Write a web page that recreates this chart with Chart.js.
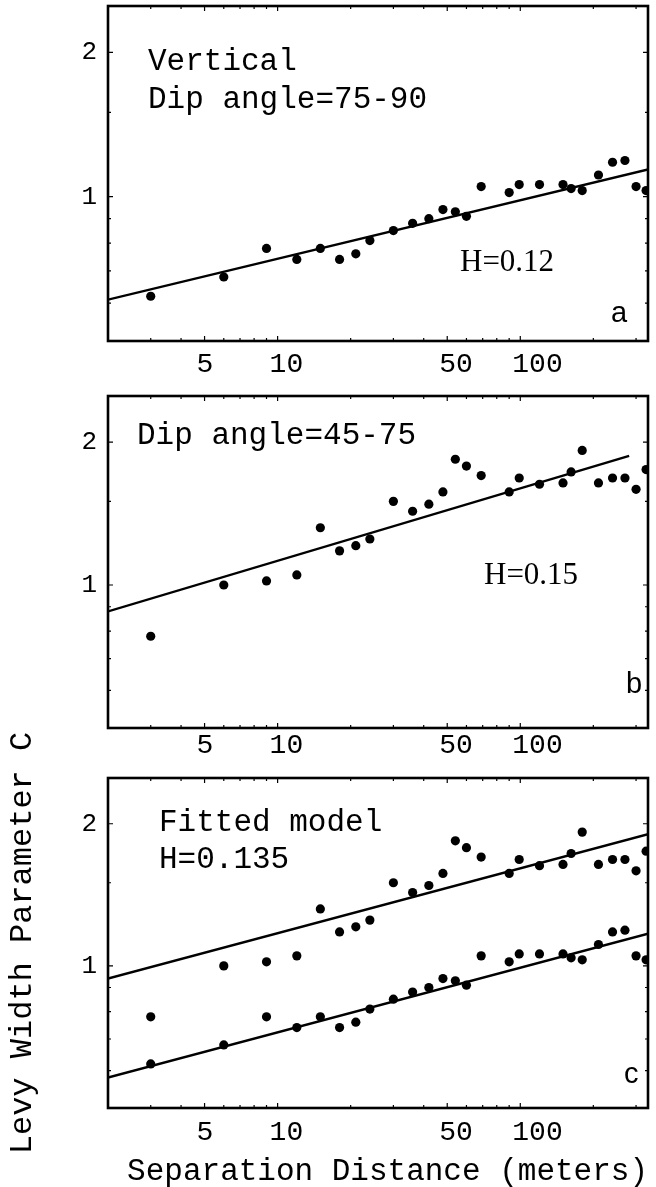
<!DOCTYPE html>
<html>
<head>
<meta charset="utf-8">
<script src="https://cdn.jsdelivr.net/npm/chart.js@4.4.1/dist/chart.umd.min.js"></script>
<style>
  html, body { margin: 0; padding: 0; background: #fff; }
  #page { position: relative; width: 656px; height: 1187px; overflow: hidden; }
  .panel { position: absolute; left: 0; width: 656px; }
  .panel canvas { display: block; }
</style>
</head>
<body>
<div id="page">
  <div class="panel" style="top:0;height:390px"><canvas id="chartA" width="656" height="390"></canvas></div>
  <div class="panel" style="top:390px;height:380px"><canvas id="chartB" width="656" height="380"></canvas></div>
  <div class="panel" style="top:690px;height:497px"><canvas id="chartC" width="656" height="497"></canvas></div>
</div>
<script>
// separation distance (m)
const distances = [3, 6, 9, 12, 15, 18, 21, 24, 30, 36, 42, 48, 54, 60, 69, 90, 99, 120, 150, 162, 180, 210, 240, 270, 300, 330];
// Levy width parameter C, dip 75-90 (vertical)
const levyVertical = [0.62, 0.68, 0.78, 0.74, 0.78, 0.74, 0.76, 0.81, 0.85, 0.88, 0.90, 0.94, 0.93, 0.91, 1.05, 1.02, 1.06, 1.06, 1.06, 1.04, 1.03, 1.11, 1.18, 1.19, 1.05, 1.03];
// Levy width parameter C, dip 45-75
const levyInclined = [0.78, 1.00, 1.02, 1.05, 1.32, 1.18, 1.21, 1.25, 1.50, 1.43, 1.48, 1.57, 1.84, 1.78, 1.70, 1.57, 1.68, 1.63, 1.64, 1.73, 1.92, 1.64, 1.68, 1.68, 1.59, 1.75];

// fitted lines (end points)
const fitX = [2, 336];
const fitVertical = [0.61, 1.14];
const fitInclinedX = [2, 281];
const fitInclined = [0.88, 1.87];
const modelUpper = [0.94, 1.90];
const modelLower = [0.58, 1.17];

const xTickValues = [5, 10, 50, 100];
const xMinorTicks = [2, 3, 4, 6, 7, 8, 9, 20, 30, 40, 60, 70, 80, 90, 200, 300];
const yTickValues = [1, 2];
const yMinorTicks = [0.6, 0.7, 0.8, 0.9, 1.5];

const MONO = "'Liberation Mono', 'Courier New', monospace";

function pts(xs, ys) {
    return xs.map((x, i) => ({ x: x, y: ys[i] }));
}

function dots(xs, ys) {
    return { data: pts(xs, ys), showLine: false, pointRadius: 4.6, pointHoverRadius: 4.6,
             pointBackgroundColor: '#000', pointBorderWidth: 0 };
}

function fitLine(xs, ys) {
    return { data: pts(xs, ys), showLine: true, borderColor: '#000', borderWidth: 2.4,
             pointRadius: 0, fill: false };
}

// frame + little inward ticks like the original
const framePlugin = {
    id: 'frame',
    afterDraw(chart) {
        const { ctx, chartArea: a, scales: { x, y } } = chart;
        ctx.save();
        ctx.strokeStyle = '#000';
        ctx.lineWidth = 1.2;
        ctx.beginPath();
        xTickValues.concat(xMinorTicks).forEach(v => {
            const px = x.getPixelForValue(v);
            const len = xTickValues.includes(v) ? 5 : 3;
            ctx.moveTo(px, a.bottom); ctx.lineTo(px, a.bottom - len);
            ctx.moveTo(px, a.top); ctx.lineTo(px, a.top + len);
        });
        yTickValues.concat(yMinorTicks).forEach(v => {
            const py = y.getPixelForValue(v);
            const len = yTickValues.includes(v) ? 5 : 3;
            ctx.moveTo(a.left, py); ctx.lineTo(a.left + len, py);
            ctx.moveTo(a.right, py); ctx.lineTo(a.right - len, py);
        });
        ctx.stroke();
        ctx.lineWidth = 2.6;
        ctx.strokeRect(a.left, a.top, a.right - a.left, a.bottom - a.top);
        ctx.restore();
    }
};

// text inside the panels
const notesPlugin = {
    id: 'notes',
    afterDraw(chart, args, opts) {
        const { ctx, chartArea: a } = chart;
        (opts.items || []).forEach(n => {
            ctx.save();
            ctx.font = n.font;
            ctx.fillStyle = '#000';
            ctx.textBaseline = 'alphabetic';
            ctx.fillText(n.text, a.left + n.dx, a.top + n.dy);
            ctx.restore();
        });
    }
};

function makeOptions(cfg) {
    return {
        responsive: false,
        animation: false,
        layout: { padding: { top: cfg.top, right: 8, bottom: 0, left: 0 } },
        plugins: {
            legend: { display: false },
            tooltip: { enabled: false },
            notes: { items: cfg.notes }
        },
        scales: {
            x: {
                type: 'logarithmic',
                min: 2,
                max: 336,
                afterBuildTicks: s => { s.ticks = xTickValues.map(v => ({ value: v })); },
                afterFit: s => { s.height = cfg.xHeight; s.paddingLeft = 0; s.paddingRight = 0; },
                grid: { display: false, drawTicks: false },
                border: { display: false },
                ticks: {
                    color: '#000',
                    font: { family: MONO, size: 28 },
                    padding: cfg.xPad,
                    align: 'start',
                    labelOffset: -8,
                    maxRotation: 0,
                    autoSkip: false,
                    callback: v => String(v)
                },
                title: cfg.xTitle || { display: false }
            },
            y: {
                type: 'logarithmic',
                min: 0.5,
                max: 2.5,
                afterBuildTicks: s => { s.ticks = yTickValues.map(v => ({ value: v })); },
                afterFit: s => { s.width = 108; s.paddingTop = 0; s.paddingBottom = 0; },
                grid: { display: false, drawTicks: false },
                border: { display: false },
                ticks: {
                    color: '#000',
                    font: { family: MONO, size: 26 },
                    padding: 11,
                    autoSkip: false,
                    callback: v => String(v)
                },
                title: cfg.yTitle || { display: false }
            }
        }
    };
}

const monoNote = "31px 'Liberation Mono', 'Courier New', monospace";
const serifNote = "31px 'Liberation Serif', 'Times New Roman', serif";
const sansNote = "29px 'Liberation Sans', Arial, sans-serif";

new Chart(document.getElementById('chartA'), {
    type: 'scatter',
    data: { datasets: [dots(distances, levyVertical), fitLine(fitX, fitVertical)] },
    options: makeOptions({
        top: 6, xHeight: 49, xPad: 7,
        notes: [
            { text: 'Vertical', dx: 40, dy: 64, font: monoNote },
            { text: 'Dip angle=75-90', dx: 40, dy: 102, font: monoNote },
            { text: 'H=0.12', dx: 352, dy: 265, font: serifNote },
            { text: 'a', dx: 503, dy: 316, font: sansNote }
        ]
    }),
    plugins: [framePlugin, notesPlugin]
});

new Chart(document.getElementById('chartB'), {
    type: 'scatter',
    data: { datasets: [dots(distances, levyInclined), fitLine(fitInclinedX, fitInclined)] },
    options: makeOptions({
        top: 6, xHeight: 42, xPad: 1,
        notes: [
            { text: 'Dip angle=45-75', dx: 29, dy: 48, font: monoNote },
            { text: 'H=0.15', dx: 376, dy: 188, font: serifNote },
            { text: 'b', dx: 518, dy: 297, font: sansNote }
        ]
    }),
    plugins: [framePlugin, notesPlugin]
});

new Chart(document.getElementById('chartC'), {
    type: 'scatter',
    data: {
        datasets: [
            dots(distances, levyInclined),
            dots(distances, levyVertical),
            fitLine(fitX, modelUpper),
            fitLine(fitX, modelLower)
        ]
    },
    options: makeOptions({
        top: 88, xHeight: 79, xPad: 8,
        xTitle: {
            display: true, text: 'Separation Distance (meters)', color: '#000', align: 'end',
            font: { family: MONO, size: 31, lineHeight: 1 }, padding: { top: 0, bottom: 0 }
        },
        yTitle: {
            display: true, text: 'Levy Width Parameter C', color: '#000',
            font: { family: MONO, size: 32, lineHeight: 1.2 }, padding: { top: 3, bottom: 0 }
        },
        notes: [
            { text: 'Fitted model', dx: 51, dy: 53, font: monoNote },
            { text: 'H=0.135', dx: 51, dy: 90, font: monoNote },
            { text: 'c', dx: 516, dy: 305, font: sansNote }
        ]
    }),
    plugins: [framePlugin, notesPlugin]
});
</script>
</body>
</html>
